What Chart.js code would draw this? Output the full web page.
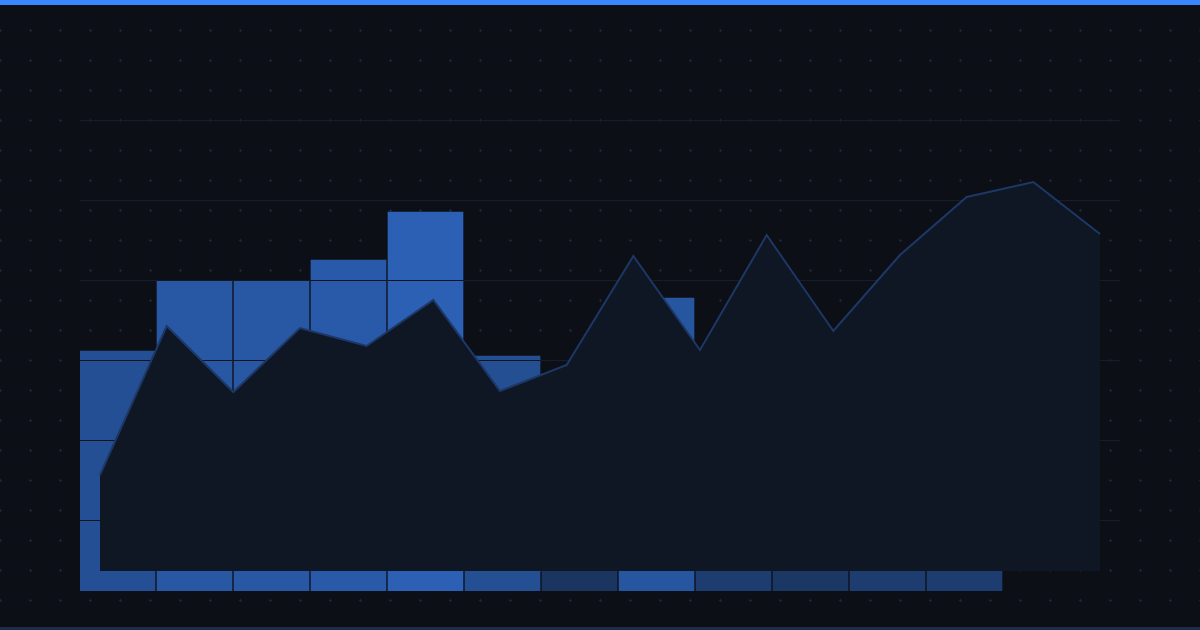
<!DOCTYPE html>
<html>
<head>
<meta charset="utf-8">
<script src="https://cdn.jsdelivr.net/npm/chart.js@4.4.1/dist/chart.umd.min.js"></script>
<style>
  html, body { margin: 0; padding: 0; background: #0c0f16; }
  #wrap { width: 1200px; height: 630px; }
</style>
</head>
<body>
<div id="wrap"><canvas id="chart" width="1200" height="630"></canvas></div>
<script>
// bars: monthly totals (hidden ones read from their shade)
const barMonths = ['Jan','Feb','Mar','Apr','May','Jun','Jul','Aug','Sep','Oct','Nov','Dec'];
const barValues = [60, 77.5, 77.5, 82.75, 94.75, 58.75, 5, 73.25, 20, 9, 20, 20];

// area: running series, 16 points
const areaPoints = ['P1','P2','P3','P4','P5','P6','P7','P8','P9','P10','P11','P12','P13','P14','P15','P16'];
const areaValues = [24, 61.25, 44.75, 60.75, 56.25, 67.75, 45, 51.5, 78.75, 55.25, 84, 60, 79, 93.5, 97.25, 84.25];

const BG = [12, 15, 22];
const BLUE = [58, 134, 255];

function mix(a) {
  const c = BLUE.map((v, i) => Math.round(BG[i] + (v - BG[i]) * a));
  return 'rgb(' + c.join(',') + ')';
}

// bar fill with a thin dark rule every 80px (lines up with the grid)
function barPattern(color) {
  const c = document.createElement('canvas');
  c.width = 8; c.height = 80;
  const g = c.getContext('2d');
  g.fillStyle = color;
  g.fillRect(0, 0, 8, 80);
  g.fillStyle = '#0e131d';
  g.fillRect(0, 40, 8, 1);
  return g.createPattern(c, 'repeat');
}

const maxBar = Math.max(...barValues);
const barFills = barValues.map(v => barPattern(mix(0.3 + 0.38 * v / maxBar)));

const backdrop = {
  id: 'backdrop',
  beforeDraw(chart) {
    const ctx = chart.ctx;
    const w = chart.width, h = chart.height;
    ctx.save();
    ctx.fillStyle = '#0c0f16';
    ctx.fillRect(0, 0, w, h);
    ctx.fillStyle = '#1a2640';
    for (let x = 0; x <= w; x += 30) {
      for (let y = 30; y <= h; y += 30) {
        ctx.fillRect(x - 1, y, 3, 1);
        ctx.fillRect(x, y - 1, 1, 3);
      }
    }
    ctx.fillStyle = '#3a86ff';
    ctx.fillRect(0, 0, w, 5);
    ctx.fillStyle = '#1c2c4a';
    ctx.fillRect(0, h - 3, w, 3);
    ctx.restore();
  }
};

const ctx = document.getElementById('chart').getContext('2d');
new Chart(ctx, {
  data: {
    datasets: [
      {
        type: 'line',
        label: 'Trend',
        data: areaValues.map((v, i) => ({ x: i, y: v })),
        xAxisID: 'xa',
        yAxisID: 'ya',
        borderColor: '#1d3866',
        borderWidth: 2,
        backgroundColor: '#0f1725',
        fill: 'origin',
        tension: 0,
        pointRadius: 0,
        order: 1
      },
      {
        type: 'bar',
        label: 'Monthly',
        data: barValues.map((v, i) => ({ x: i, y: v })),
        xAxisID: 'xb',
        yAxisID: 'yb',
        backgroundColor: barFills,
        borderWidth: 0,
        grouped: false,
        barThickness: 75,
        order: 2
      }
    ]
  },
  options: {
    responsive: false,
    animation: false,
    devicePixelRatio: 1,
    layout: { padding: { left: 80, right: 80, top: 120, bottom: 39 } },
    plugins: { legend: { display: false }, tooltip: { enabled: false } },
    scales: {
      xb: {
        type: 'linear', display: false, offset: false,
        min: -37.5 / 77, max: -37.5 / 77 + 1040 / 77
      },
      xa: { type: 'linear', display: false, offset: false, min: -0.3, max: 15.3 },
      yb: { type: 'linear', display: false, min: 0, max: 117.75 },
      ya: { type: 'linear', display: false, min: -5, max: 112.75 },
      yg: {
        type: 'linear',
        position: 'left',
        reverse: true,
        min: 0,
        max: 471,
        ticks: { display: false, stepSize: 80, includeBounds: false },
        grid: { color: '#161d2b', lineWidth: 1, drawTicks: false },
        border: { display: false }
      }
    }
  },
  plugins: [backdrop]
});
</script>
</body>
</html>
